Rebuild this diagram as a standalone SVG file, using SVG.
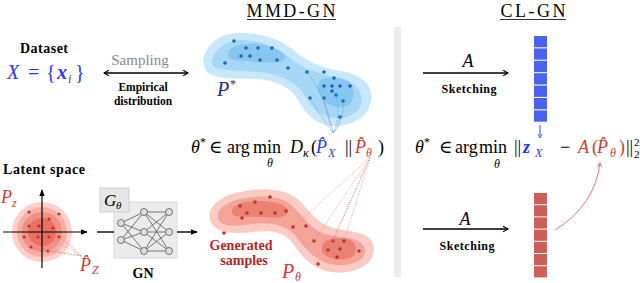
<svg xmlns="http://www.w3.org/2000/svg" width="640" height="283" viewBox="0 0 640 283">
<defs>
<style>
text{font-family:"Liberation Serif","DejaVu Serif",serif;fill:#000}
.b{font-weight:bold}
.i{font-style:italic}
.blue{fill:#2536f5}
.red{fill:#d23a32}
.m{font-size:18px}
.s{font-size:12px}
.bd{fill:#1668b4}
.rd{fill:#c4312b}
.conn{fill:none;stroke:#000;stroke-width:1.4}
.bdot{fill:none;stroke:#3f8fd2;stroke-width:0.8;stroke-dasharray:1 1.3}
.rdot{fill:none;stroke:#e27a72;stroke-width:0.7;stroke-dasharray:1 1.3}
.edge{stroke:#555;stroke-width:0.8}
.node{fill:#ddd;stroke:#555;stroke-width:0.8}
.bc{fill:#4a62f0}
.rc{fill:#cd5f58}
</style>
<marker id="open" viewBox="0 0 10 10" refX="8" refY="5" markerWidth="7" markerHeight="7" markerUnits="userSpaceOnUse" orient="auto-start-reverse">
<path d="M1,1 L8,5 L1,9" fill="none" stroke="#000" stroke-width="1.6"/>
</marker>
<marker id="tri" viewBox="0 0 10 10" refX="9" refY="5" markerWidth="7" markerHeight="7" markerUnits="userSpaceOnUse" orient="auto">
<path d="M0,1 L10,5 L0,9 Z" fill="#000"/>
</marker>
<marker id="blueh" viewBox="0 0 10 10" refX="8" refY="5" markerWidth="6" markerHeight="6" markerUnits="userSpaceOnUse" orient="auto">
<path d="M1,1 L8,5 L1,9" fill="none" stroke="#4d6bf0" stroke-width="1.5"/>
</marker>
<marker id="redh" viewBox="0 0 10 10" refX="8" refY="5" markerWidth="6" markerHeight="6" markerUnits="userSpaceOnUse" orient="auto">
<path d="M1,1 L8,5 L1,9" fill="none" stroke="#e06a62" stroke-width="1.5"/>
</marker>
</defs>
<rect width="640" height="283" fill="#fff"/>

<!-- titles -->
<g id="titles">
<text x="291" y="17" font-size="18" text-anchor="middle" textLength="89">MMD-GN</text>
<line x1="247" y1="19.5" x2="336" y2="19.5" stroke="#000" stroke-width="0.8"/>
<text x="533" y="17" font-size="18" text-anchor="middle" textLength="65">CL-GN</text>
<line x1="500" y1="19.5" x2="566" y2="19.5" stroke="#000" stroke-width="0.8"/>
</g>

<rect id="divider" x="394" y="27" width="7" height="250" fill="#ececec"/>

<!-- dataset -->
<g id="dataset">
<text x="20" y="53" font-size="14" class="b" textLength="48">Dataset</text>
<text x="7" y="79" font-size="20" class="blue i">X</text>
<text x="28" y="79" font-size="20" class="blue">=</text>
<text x="46" y="79" font-size="20" class="blue">{</text>
<text x="57" y="79" font-size="20" class="blue i b">x</text>
<text x="68" y="83" font-size="12" class="blue i">i</text>
<text x="75" y="79" font-size="20" class="blue">}</text>
</g>

<!-- sampling -->
<g id="sampling">
<text x="140" y="65" font-size="15" style="fill:#888" text-anchor="middle">Sampling</text>
<text x="143" y="91" font-size="11.5" class="b" text-anchor="middle">Empirical</text>
<text x="143" y="105" font-size="11.5" class="b" text-anchor="middle">distribution</text>
</g>

<!-- blue blob -->
<g id="target">
<path fill="#c8e7fb" d="M204,66 C200,50 218,33 236,33 C258,32 280,38 296,52 C310,64 325,68 345,72 C365,76 374,88 371,102 C368,116 355,125 336,126 C318,127 306,115 298,100 C290,86 275,80 255,79 C235,78 207,81 204,66 Z"/>
<path fill="#a6d7f6" d="M212,63 C212,52 224,41 240,40 C258,40 276,46 290,58 C302,68 318,74 340,78 C356,82 364,92 361,104 C358,114 347,119 334,118 C320,117 312,108 305,96 C298,84 282,74 260,72 C240,70 212,72 212,63 Z"/>
<path fill="#86c6f1" d="M228,55 C228,47 240,43 255,44 C270,45 283,50 285,57 C286,63 272,64 258,62 C243,60 228,62 228,55 Z"/>
<path fill="#86c6f1" d="M318,84 C320,77 335,76 346,80 C355,84 356,96 350,104 C344,110 330,108 324,100 C319,94 316,89 318,84 Z"/>
<g class="bd">
<circle cx="234" cy="41" r="1.8"/><circle cx="246" cy="48" r="1.8"/><circle cx="258" cy="48" r="1.8"/><circle cx="272" cy="48" r="1.8"/>
<circle cx="241" cy="56" r="1.8"/><circle cx="250" cy="56" r="1.8"/><circle cx="260" cy="60" r="1.8"/><circle cx="277" cy="60" r="1.8"/>
<circle cx="225" cy="63" r="1.8"/><circle cx="288" cy="68" r="1.8"/><circle cx="307" cy="72" r="1.8"/><circle cx="324" cy="72" r="1.8"/>
<circle cx="334" cy="78" r="1.8"/><circle cx="324" cy="86" r="1.8"/><circle cx="332" cy="86" r="1.8"/><circle cx="340" cy="86" r="1.8"/>
<circle cx="350" cy="86" r="1.8"/><circle cx="332" cy="91" r="1.8"/><circle cx="336" cy="95" r="1.8"/><circle cx="310" cy="98" r="1.8"/>
<circle cx="324" cy="98" r="1.8"/><circle cx="343" cy="101" r="1.8"/><circle cx="340" cy="117" r="1.8"/>
</g>
<text x="217" y="96" font-size="20" class="i" style="fill:#1f2a8a">P</text>
<text x="230" y="88" font-size="12" style="fill:#1f2a8a">*</text>
</g>

<!-- latent -->
<g id="latent">
<text x="3" y="174" font-size="14" class="b" textLength="82">Latent space</text>
<circle cx="42" cy="232" r="30" fill="#fbd0cb"/>
<circle cx="42" cy="232" r="25" fill="#f6aea5"/>
<circle cx="42" cy="232" r="20" fill="#f09084"/>
<circle cx="42" cy="232" r="14" fill="#e87163"/>
<g class="rd">
<circle cx="29" cy="212" r="1.6"/><circle cx="59" cy="214" r="1.6"/><circle cx="49" cy="219" r="1.6"/><circle cx="29" cy="226" r="1.6"/>
<circle cx="39" cy="226" r="1.6"/><circle cx="53" cy="228" r="1.6"/><circle cx="24" cy="237" r="1.6"/><circle cx="38" cy="237" r="1.6"/>
<circle cx="49" cy="237" r="1.6"/><circle cx="59" cy="237" r="1.6"/><circle cx="31" cy="247" r="1.6"/><circle cx="48" cy="251" r="1.6"/>
</g>
<g class="rdot">
<path d="M81,256 L59,237 M81,256 L53,228 M81,256 L49,237 M81,256 L48,251 M81,256 L31,247"/>
</g>
<line x1="3" y1="232" x2="87" y2="232" stroke="#000" stroke-width="1.2" marker-end="url(#tri)"/>
<line x1="42" y1="268" x2="42" y2="190" stroke="#000" stroke-width="1.2" marker-end="url(#tri)"/>
<text x="1" y="203" font-size="18" class="i red">P</text>
<text x="12" y="207" font-size="12" class="i red">z</text>
<text x="80" y="271" font-size="18" class="i red">P̂</text>
<text x="92" y="274" font-size="12" class="i red">Z</text>
</g>

<!-- generator -->
<g id="generator">
<rect x="114" y="202" width="63" height="56" fill="#ebebeb" stroke="#d8d8d8" stroke-width="1"/>
<g class="edge">
<line x1="121" y1="223" x2="144" y2="212"/><line x1="121" y1="223" x2="144" y2="232"/><line x1="121" y1="223" x2="144" y2="251"/>
<line x1="121" y1="240" x2="144" y2="212"/><line x1="121" y1="240" x2="144" y2="232"/><line x1="121" y1="240" x2="144" y2="251"/>
<line x1="144" y1="212" x2="169" y2="212"/><line x1="144" y1="212" x2="169" y2="232"/><line x1="144" y1="212" x2="169" y2="251"/>
<line x1="144" y1="232" x2="169" y2="212"/><line x1="144" y1="232" x2="169" y2="232"/><line x1="144" y1="232" x2="169" y2="251"/>
<line x1="144" y1="251" x2="169" y2="212"/><line x1="144" y1="251" x2="169" y2="232"/><line x1="144" y1="251" x2="169" y2="251"/>
</g>
<g class="node">
<circle cx="121" cy="223" r="3.5"/><circle cx="121" cy="240" r="3.5"/>
<circle cx="144" cy="212" r="3.5"/><circle cx="144" cy="232" r="3.5"/><circle cx="144" cy="251" r="3.5"/>
<circle cx="169" cy="212" r="3.5"/><circle cx="169" cy="232" r="3.5"/><circle cx="169" cy="251" r="3.5"/>
</g>
<rect x="100" y="188" width="29" height="24" fill="#e6e6e6" stroke="#cfcfcf" stroke-width="1"/>
<text x="104" y="206" font-size="17" class="i">G</text>
<text x="116" y="209" font-size="11" class="i">θ</text>
<text x="143" y="278" font-size="14" class="b" text-anchor="middle">GN</text>
</g>

<!-- generated -->
<g id="generated">
<path fill="#f9cbc4" d="M210,220 C206,207 222,195 240,192 C258,188 280,187 295,197 C306,205 311,216 322,223 C335,231 350,229 365,235 C377,241 377,258 364,266 C350,275 330,274 318,268 C304,261 298,250 290,240 C282,231 268,230 252,232 C236,234 214,234 210,220 Z"/>
<path fill="#f3a397" d="M218,218 C216,208 230,200 246,198 C262,195 280,196 290,204 C300,212 306,224 320,232 C334,238 350,236 360,242 C368,248 366,258 356,262 C344,267 330,266 320,260 C308,253 302,244 294,234 C284,224 268,222 252,224 C238,226 220,228 218,218 Z"/>
<path fill="#ea8172" d="M232,212 C232,204 245,201 260,201 C275,201 288,205 288,212 C288,218 275,218 260,217 C246,216 232,219 232,212 Z"/>
<path fill="#ea8172" d="M322,246 C324,238 340,236 350,240 C358,244 358,254 350,258 C340,262 326,258 322,252 Z"/>
<g class="rd">
<circle cx="270" cy="197" r="1.8"/><circle cx="255" cy="202" r="1.8"/><circle cx="240" cy="206" r="1.8"/><circle cx="247" cy="213" r="1.8"/>
<circle cx="261" cy="213" r="1.8"/><circle cx="275" cy="213" r="1.8"/><circle cx="286" cy="211" r="1.8"/><circle cx="242" cy="218" r="1.8"/>
<circle cx="293" cy="227" r="1.8"/><circle cx="306" cy="226" r="1.8"/><circle cx="224" cy="233" r="1.8"/><circle cx="314" cy="241" r="1.8"/>
<circle cx="333" cy="241" r="1.8"/><circle cx="344" cy="241" r="1.8"/><circle cx="328" cy="250" r="1.8"/><circle cx="340" cy="249" r="1.8"/>
<circle cx="337" cy="257" r="1.8"/><circle cx="359" cy="251" r="1.8"/><circle cx="318" cy="264" r="1.8"/>
</g>
<text x="241" y="250" font-size="14" class="b" text-anchor="middle" style="fill:#b8241f">Generated</text>
<text x="244" y="265" font-size="14" class="b" text-anchor="middle" style="fill:#b8241f">samples</text>
<text x="282" y="278" font-size="20" class="i red">P</text>
<text x="295" y="281" font-size="12" class="i red">θ</text>
</g>

<!-- formula MMD -->
<g id="formula-mmd">
<text x="191" y="153" class="i m">θ</text>
<text x="200" y="146" class="s">*</text>
<text x="209" y="153" class="m">∈</text>
<text x="227" y="153" class="m">arg</text>
<text x="253" y="153" class="m">min</text>
<text x="267" y="167" class="s i">θ</text>
<text x="290" y="153" class="m i">D</text>
<text x="303" y="157" class="s i">κ</text>
<text x="311" y="153" class="m">(</text>
<text x="316" y="153" class="m i blue">P̂</text>
<text x="328" y="157" class="s i blue">X</text>
<text x="345" y="153" class="m">||</text>
<text x="355" y="153" class="m i red">P̂</text>
<text x="366" y="157" class="s i red">θ</text>
<text x="378" y="153" class="m">)</text>
</g>

<!-- formula CL -->
<g id="formula-cl">
<text x="415" y="153" class="i m">θ</text>
<text x="424" y="146" class="s">*</text>
<text x="439" y="153" class="m">∈</text>
<text x="455" y="153" class="m">arg</text>
<text x="479" y="153" class="m">min</text>
<text x="494" y="168" class="s i">θ</text>
<text x="514" y="153" class="m">||</text>
<text x="523" y="153" class="m i b blue">z</text>
<text x="535" y="157" class="s i blue">X</text>
<text x="560" y="153" class="m">−</text>
<text x="578" y="153" class="m i red">A</text>
<text x="592" y="153" class="m red">(</text>
<text x="597" y="153" class="m i red">P̂</text>
<text x="610" y="157" class="s i red">θ</text>
<text x="619" y="153" class="m red">)</text>
<text x="626" y="153" class="m">||</text>
<text x="634" y="146" font-size="11">2</text>
<text x="634" y="158" font-size="11">2</text>
</g>

<!-- sketch bars -->
<g id="sketch-data">
<rect class="bc" x="534" y="36" width="13" height="11.3"/>
<rect class="bc" x="534" y="48.4" width="13" height="11.3"/>
<rect class="bc" x="534" y="60.8" width="13" height="11.3"/>
<rect class="bc" x="534" y="73.2" width="13" height="11.3"/>
<rect class="bc" x="534" y="85.6" width="13" height="11.3"/>
<rect class="bc" x="534" y="98" width="13" height="11.3"/>
<rect class="bc" x="534" y="110.4" width="13" height="11.3"/>
</g>
<g id="sketch-gen">
<rect class="rc" x="534" y="193" width="13" height="11.2"/>
<rect class="rc" x="534" y="205.2" width="13" height="11.2"/>
<rect class="rc" x="534" y="217.4" width="13" height="11.2"/>
<rect class="rc" x="534" y="229.6" width="13" height="11.2"/>
<rect class="rc" x="534" y="241.8" width="13" height="11.2"/>
<rect class="rc" x="534" y="254" width="13" height="11.2"/>
<rect class="rc" x="534" y="266.2" width="13" height="11.2"/>
</g>

<!-- connectors -->
<g id="connectors">
<line class="conn" x1="104" y1="73" x2="188" y2="73" marker-start="url(#open)" marker-end="url(#open)"/>
<line class="conn" x1="423" y1="73" x2="508" y2="73" marker-end="url(#open)"/>
<text x="468" y="67" font-size="18" class="i" text-anchor="middle">A</text>
<text x="469" y="93" font-size="12" class="b" text-anchor="middle" textLength="55">Sketching</text>
<line class="conn" x1="423" y1="229" x2="508" y2="229" marker-end="url(#open)"/>
<text x="465" y="225" font-size="18" class="i" text-anchor="middle">A</text>
<text x="467" y="250" font-size="12" class="b" text-anchor="middle" textLength="55">Sketching</text>
<line x1="97" y1="232" x2="114" y2="232" stroke="#000" stroke-width="1.4"/>
<line x1="177" y1="232" x2="197" y2="232" stroke="#000" stroke-width="1.4" marker-end="url(#tri)"/>
<line x1="540" y1="125" x2="540" y2="138" stroke="#4d6bf0" stroke-width="1.2" marker-end="url(#blueh)"/>
<path d="M555,230 Q595,205 600,163" fill="none" stroke="#e06a62" stroke-width="0.9" marker-end="url(#redh)"/>
<g class="bdot">
<path d="M307,72 Q325,95 333,133"/>
<path d="M310,98 Q322,118 333,133"/>
<path d="M324,98 Q328,118 333,133"/>
<path d="M336,95 Q341,115 333,133"/>
<path d="M343,101 Q345,120 333,133"/>
<path d="M340,117 Q338,127 333,133"/>
</g>
<g class="rdot">
<path d="M370,158 L293,227 M370,158 L314,241 M370,158 L333,241 M370,158 L344,241 M370,158 L328,250"/>
</g>
</g>
</svg>
